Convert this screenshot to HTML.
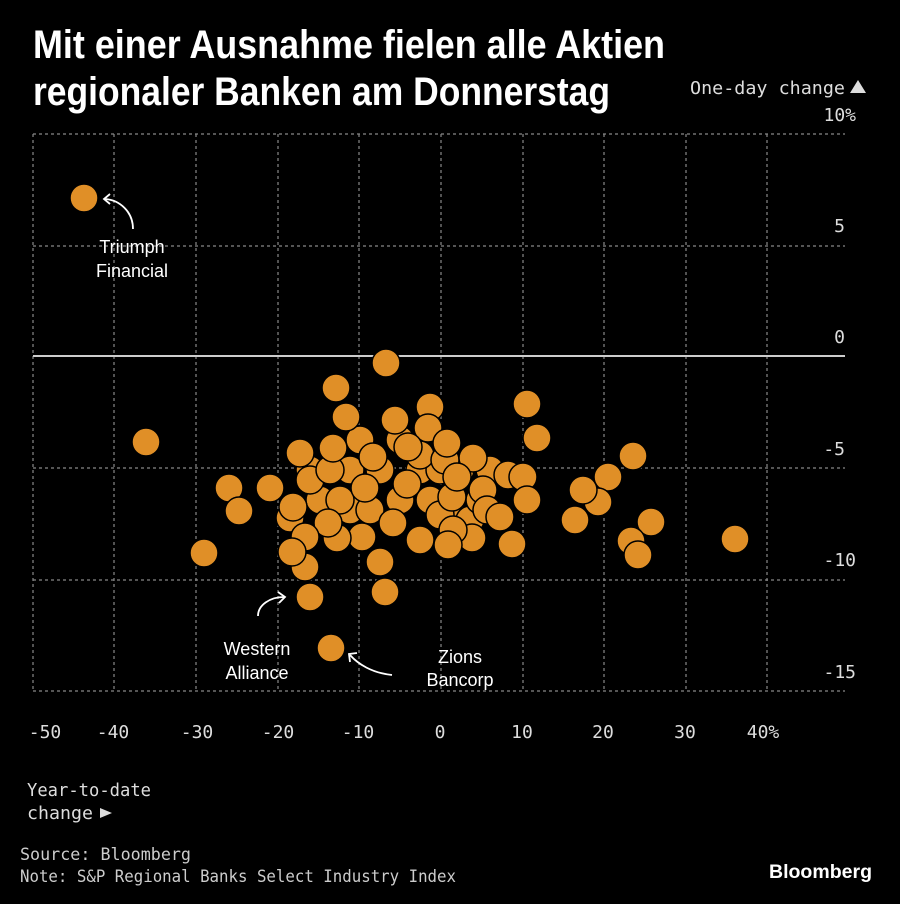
<!DOCTYPE html>
<html><head><meta charset="utf-8"><style>
html,body{margin:0;padding:0;background:#000;}
svg{display:block}
</style></head><body>
<svg width="900" height="904" viewBox="0 0 900 904" xmlns="http://www.w3.org/2000/svg" font-family="Liberation Sans, sans-serif">
<rect width="900" height="904" fill="#000"/>
<text x="33" y="58" fill="#fff" font-size="40" font-weight="bold" textLength="632" lengthAdjust="spacingAndGlyphs">Mit einer Ausnahme fielen alle Aktien</text>
<text x="33" y="105" fill="#fff" font-size="40" font-weight="bold" textLength="577" lengthAdjust="spacingAndGlyphs">regionaler Banken am Donnerstag</text>
<text x="690" y="94" fill="#ddd" font-size="18" font-family="DejaVu Sans Mono, monospace" textLength="155" lengthAdjust="spacingAndGlyphs">One-day change</text>
<polygon points="850,93 866,93 858,80" fill="#ddd"/>
<g stroke="#888" stroke-width="1.2" stroke-dasharray="3,3" fill="none">
<line x1="33" y1="134" x2="845" y2="134"/><line x1="33" y1="246" x2="845" y2="246"/>
<line x1="33" y1="468" x2="845" y2="468"/><line x1="33" y1="580" x2="845" y2="580"/>
<line x1="33" y1="691" x2="845" y2="691"/>
<line x1="33" y1="134" x2="33" y2="691"/><line x1="114" y1="134" x2="114" y2="691"/>
<line x1="196" y1="134" x2="196" y2="691"/><line x1="278" y1="134" x2="278" y2="691"/>
<line x1="359" y1="134" x2="359" y2="691"/><line x1="441" y1="134" x2="441" y2="691"/>
<line x1="523" y1="134" x2="523" y2="691"/><line x1="604" y1="134" x2="604" y2="691"/>
<line x1="686" y1="134" x2="686" y2="691"/><line x1="767" y1="134" x2="767" y2="691"/>
</g>
<line x1="33" y1="356" x2="845" y2="356" stroke="#ccc" stroke-width="2"/>
<g fill="#ddd" font-size="18" font-family="DejaVu Sans Mono, monospace" text-anchor="end">
<text x="856" y="121">10%</text><text x="845" y="232">5</text><text x="845" y="343">0</text>
<text x="845" y="455">-5</text><text x="856" y="566">-10</text><text x="856" y="678">-15</text>
</g>
<g fill="#ddd" font-size="18" font-family="DejaVu Sans Mono, monospace" text-anchor="middle">
<text x="45" y="738">-50</text><text x="113" y="738">-40</text><text x="197" y="738">-30</text>
<text x="278" y="738">-20</text><text x="358" y="738">-10</text><text x="440" y="738">0</text>
<text x="522" y="738">10</text><text x="603" y="738">20</text><text x="685" y="738">30</text>
<text x="763" y="738">40%</text>
</g>
<g fill="#e08f27" stroke="#000" stroke-width="1.5">
<circle cx="84" cy="198" r="14"/>
<circle cx="146" cy="442" r="14"/><circle cx="204" cy="553" r="14"/><circle cx="229" cy="488" r="14"/>
<circle cx="239" cy="511" r="14"/><circle cx="269" cy="488" r="14"/><circle cx="290" cy="518" r="14"/>
<circle cx="633" cy="456" r="14"/><circle cx="608" cy="477" r="14"/><circle cx="598" cy="502" r="14"/>
<circle cx="583" cy="490" r="14"/><circle cx="575" cy="520" r="14"/><circle cx="651" cy="522" r="14"/>
<circle cx="631" cy="541" r="14"/><circle cx="638" cy="555" r="14"/><circle cx="735" cy="539" r="14"/>
<circle cx="310" cy="470" r="14"/><circle cx="320" cy="500" r="14"/><circle cx="350" cy="470" r="14"/>
<circle cx="380" cy="470" r="14"/><circle cx="400" cy="500" r="14"/><circle cx="420" cy="470" r="14"/>
<circle cx="430" cy="500" r="14"/><circle cx="440" cy="470" r="14"/><circle cx="460" cy="520" r="14"/>
<circle cx="350" cy="510" r="14"/><circle cx="420" cy="540" r="14"/><circle cx="470" cy="520" r="14"/>
<circle cx="490" cy="470" r="14"/><circle cx="310" cy="480" r="14"/><circle cx="340" cy="500" r="14"/>
<circle cx="370" cy="510" r="14"/><circle cx="440" cy="515" r="14"/><circle cx="460" cy="470" r="14"/>
<circle cx="330" cy="470" r="14"/><circle cx="400" cy="440" r="14"/><circle cx="360" cy="440" r="14"/>
<circle cx="420" cy="455" r="14"/><circle cx="480" cy="500" r="14"/><circle cx="445" cy="460" r="14"/>
<circle cx="336" cy="388" r="14"/><circle cx="346" cy="417" r="14"/><circle cx="430" cy="407" r="14"/>
<circle cx="527" cy="404" r="14"/><circle cx="537" cy="438" r="14"/><circle cx="395" cy="420" r="14"/>
<circle cx="428" cy="428" r="14"/><circle cx="447" cy="443" r="14"/><circle cx="473" cy="458" r="14"/>
<circle cx="300" cy="453" r="14"/><circle cx="333" cy="448" r="14"/><circle cx="373" cy="457" r="14"/>
<circle cx="408" cy="447" r="14"/><circle cx="270" cy="488" r="14"/><circle cx="293" cy="507" r="14"/>
<circle cx="365" cy="488" r="14"/><circle cx="407" cy="484" r="14"/><circle cx="452" cy="497" r="14"/>
<circle cx="457" cy="477" r="14"/><circle cx="508" cy="475" r="14"/><circle cx="523" cy="477" r="14"/>
<circle cx="527" cy="500" r="14"/><circle cx="483" cy="490" r="14"/><circle cx="487" cy="510" r="14"/>
<circle cx="500" cy="517" r="14"/><circle cx="512" cy="544" r="14"/><circle cx="472" cy="538" r="14"/>
<circle cx="453" cy="530" r="14"/><circle cx="448" cy="545" r="14"/><circle cx="393" cy="523" r="14"/>
<circle cx="362" cy="537" r="14"/><circle cx="337" cy="538" r="14"/><circle cx="328" cy="523" r="14"/>
<circle cx="305" cy="537" r="14"/><circle cx="305" cy="567" r="14"/><circle cx="292" cy="552" r="14"/>
<circle cx="380" cy="562" r="14"/><circle cx="385" cy="592" r="14"/><circle cx="310" cy="597" r="14"/>
<circle cx="386" cy="363" r="14"/><circle cx="331" cy="648" r="14"/>
</g>
<g fill="none" stroke="#fff" stroke-width="1.8">
<path d="M133 229 C133 212 120 200 105 199"/><path d="M110 194 L104 199 L110 204"/>
<path d="M258 616 C258 605 270 597 284 597"/><path d="M278 592 L285 597 L279 603"/>
<path d="M392 675 C372 673 358 664 350 655"/><path d="M350 662 L349 654 L357 653"/>
</g>
<g fill="#fff" font-size="18" text-anchor="middle">
<text x="132" y="253">Triumph</text><text x="132" y="277">Financial</text>
<text x="257" y="655">Western</text><text x="257" y="679">Alliance</text>
<text x="460" y="663">Zions</text><text x="460" y="686">Bancorp</text>
</g>
<g fill="#ddd" font-size="18" font-family="DejaVu Sans Mono, monospace">
<text x="27" y="796" textLength="124" lengthAdjust="spacingAndGlyphs">Year-to-date</text>
<text x="27" y="819" textLength="66" lengthAdjust="spacingAndGlyphs">change</text>
</g>
<polygon points="100,808 100,818 112,813" fill="#ddd"/>
<g fill="#ccc" font-size="17" font-family="DejaVu Sans Mono, monospace">
<text x="20" y="860" textLength="171" lengthAdjust="spacingAndGlyphs">Source: Bloomberg</text>
<text x="20" y="882" textLength="436" lengthAdjust="spacingAndGlyphs">Note: S&amp;P Regional Banks Select Industry Index</text>
</g>
<text x="769" y="878" fill="#fff" font-size="19" font-weight="bold" textLength="103" lengthAdjust="spacingAndGlyphs">Bloomberg</text>
</svg>
</body></html>
